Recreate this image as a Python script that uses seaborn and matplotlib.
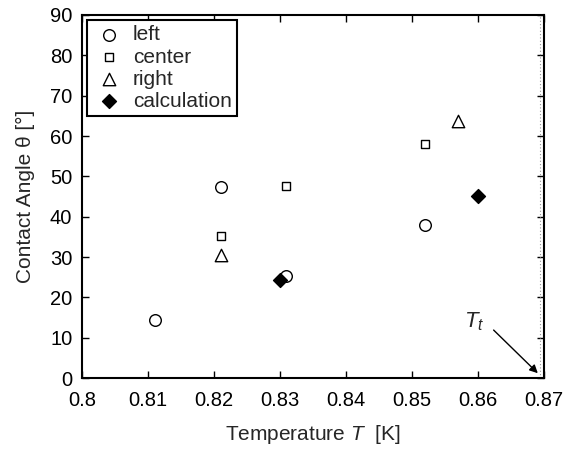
import matplotlib
matplotlib.use("Agg")
import matplotlib.pyplot as plt
import seaborn as sns
import pandas as pd

# measured contact angles
left_T = [0.811, 0.821, 0.831, 0.852]
left_angle = [14.5, 47.3, 25.4, 38.0]
center_T = [0.821, 0.831, 0.852]
center_angle = [35.3, 47.6, 57.9]
right_T = [0.821, 0.857]
right_angle = [30.4, 63.7]
calc_T = [0.830, 0.860]
calc_angle = [24.2, 45.1]
T_t = 0.8695

sns.set_theme(style="ticks")
plt.rcParams['font.family'] = ['Liberation Sans', 'DejaVu Sans']
plt.rcParams['mathtext.fontset'] = 'custom'
plt.rcParams['mathtext.it'] = 'Liberation Sans:italic'
plt.rcParams['mathtext.rm'] = 'Liberation Sans'

fig = plt.figure(figsize=(5.67, 4.49), dpi=100)
ax = fig.add_axes([0.1446, 0.158, 0.8144, 0.8086])

series = [
    ("left", left_T, left_angle, "o", "white", 70),
    ("center", center_T, center_angle, "s", "white", 40),
    ("right", right_T, right_angle, "^", "white", 80),
    ("calculation", calc_T, calc_angle, "D", "black", 50),
]
for name, xs, ys, mk, fc, sz in series:
    df = pd.DataFrame({"T": xs, "angle": ys})
    sns.scatterplot(data=df, x="T", y="angle", marker=mk, s=sz,
                    facecolor=fc, edgecolor="black", linewidth=1.0,
                    label=name, ax=ax, zorder=3)

ax.axvline(T_t, color="#999999", linestyle=(0, (1, 2)), linewidth=0.8, zorder=1)
# T_t label and arrow
ax.text(0.8595, 14.0, "$T_t$", fontsize=16, ha="center", va="center")
ax.annotate("", xy=(T_t - 0.0004, 1.2), xytext=(0.8624, 11.9),
            arrowprops=dict(arrowstyle="-|>", color="black", lw=1.0,
                            shrinkA=0, shrinkB=0, mutation_scale=12))

ax.set_xlim(0.8, 0.87)
ax.set_ylim(0, 90)
ax.set_xticks([0.8, 0.81, 0.82, 0.83, 0.84, 0.85, 0.86, 0.87])
ax.set_xticklabels(["0.8", "0.81", "0.82", "0.83", "0.84", "0.85", "0.86", "0.87"])
ax.set_yticks(range(0, 91, 10))
ax.tick_params(direction="in", top=True, right=True, length=5, width=1,
               labelsize=14.5, colors="black")
ax.tick_params(axis="x", pad=9)
ax.tick_params(axis="y", pad=7)
for sp in ax.spines.values():
    sp.set_linewidth(1.5)
    sp.set_color("black")

ax.set_xlabel("Temperature $T$  [K]", fontsize=15, labelpad=10)
ax.set_ylabel("Contact Angle θ [°]", fontsize=15, labelpad=11)

leg = ax.legend(loc="upper left", fontsize=15, frameon=True, fancybox=False,
                borderpad=0.25, labelspacing=0.15, handletextpad=0.35,
                handlelength=1.6, borderaxespad=0.25)
leg.get_frame().set_edgecolor("black")
leg.get_frame().set_linewidth(1.5)
leg.get_frame().set_alpha(1)

fig.savefig("out.png", dpi=100)
